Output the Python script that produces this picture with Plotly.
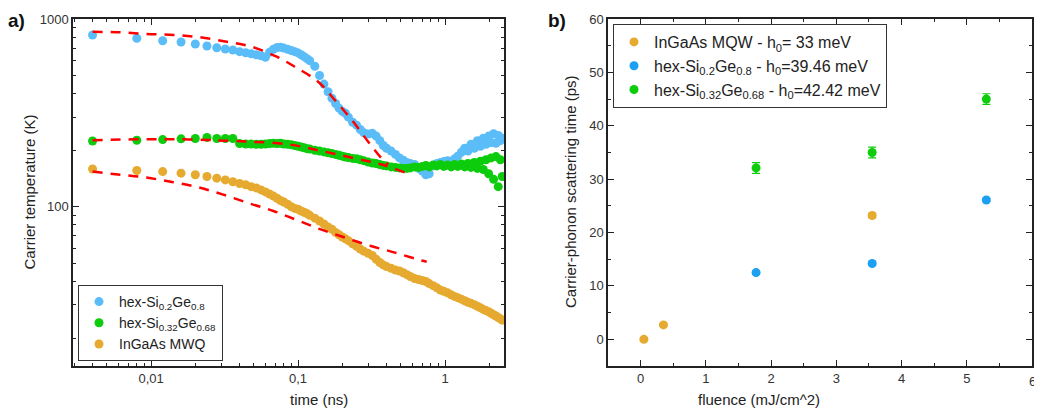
import plotly.graph_objects as go

# ---- panel a: carrier temperature vs time ----
t_ns = [0.004, 0.008, 0.012, 0.016, 0.020, 0.024, 0.028, 0.032, 0.036, 0.040,
        0.044, 0.048, 0.052, 0.056, 0.060,
        0.064, 0.068, 0.072, 0.076, 0.080, 0.085, 0.09, 0.095, 0.10, 0.105,
        0.11, 0.115, 0.12, 0.13, 0.14, 0.15, 0.16, 0.17, 0.18, 0.19,
        0.20, 0.21, 0.22, 0.235, 0.25, 0.265, 0.28, 0.30, 0.32, 0.34,
        0.36, 0.38, 0.40, 0.43, 0.46, 0.49, 0.52, 0.55, 0.58, 0.62,
        0.66, 0.70, 0.74, 0.78, 0.83, 0.88, 0.93, 0.98, 1.04, 1.10,
        1.16, 1.22, 1.29, 1.36, 1.43, 1.50, 1.58, 1.66, 1.74, 1.82,
        1.90, 1.98, 2.06, 2.14, 2.22, 2.30, 2.38, 2.45]

T_sige_02 = [822, 789, 766, 754, 736, 718, 703, 692, 684, 670,
             661, 653, 645, 637, 625,
             665, 690, 705, 708, 700, 690, 680, 670, 660, 645,
             630, 615, 600, 560, 500, 450, 410, 378, 355, 335,
             322, 315, 300, 282, 272, 258, 248, 244, 246, 238,
             225, 212, 205, 198, 190, 182, 177, 172, 170, 168,
             160, 155, 148, 150, 165, 170, 172, 174, 176, 175,
             180, 186, 195, 205, 198, 215, 205, 225, 210, 232,
             215, 238, 220, 245, 218, 240, 225, 232]

T_sige_032 = [224, 226, 228, 230, 231, 234, 231, 231, 231, 217,
              216, 216, 215, 215, 216,
              217, 218, 217, 218, 216, 215, 214, 212, 210, 208,
              206, 204, 203, 200, 198, 196, 194, 192, 190, 188,
              186, 184, 183, 181, 180, 178, 176, 173, 171, 170,
              168, 166, 165, 163, 162, 161, 160, 160, 161, 163,
              162, 164, 166, 163, 167, 165, 168, 164, 167, 163,
              168, 164, 169, 163, 170, 162, 172, 160, 175, 158,
              178, 150, 182, 140, 185, 128, 178, 145]

T_ingaas = [159, 156, 154, 151, 148, 145, 142, 139, 136, 133,
            131, 128, 126, 123, 120,
            117, 114, 111, 108, 106, 103, 100, 98, 97, 95,
            93.5, 92, 90, 87, 84, 81, 78, 76, 73, 71,
            69, 67.5, 66, 63.5, 61.5, 59.5, 58, 56.5, 55, 52.5,
            50.5, 49, 48, 47, 46, 45.5, 44.5, 43.5, 42.5, 41.5,
            41, 40.5, 40, 39, 38, 37, 36, 35.5, 34.8, 34,
            33.3, 32.8, 32.2, 31.6, 31, 30.6, 30.1, 29.5, 29, 28.4,
            28, 27.6, 27.1, 26.6, 26.2, 25.7, 25.3, 24.9]

# fitted curves (red dashed)
fit_t_02 = [0.004, 0.0062, 0.0093, 0.0142, 0.0215, 0.0327, 0.0484, 0.0716,
            0.095, 0.137, 0.178, 0.232, 0.30, 0.37, 0.41]
fit_T_02 = [855, 849, 832, 822, 799, 757, 711, 630, 557, 463, 370, 290, 222, 181, 168]
fit_t_032 = [0.004, 0.0062, 0.0098, 0.0149, 0.0239, 0.031, 0.0484, 0.086,
             0.145, 0.244, 0.37, 0.548]
fit_T_032 = [226, 228, 229, 229, 227, 225, 222, 215, 198, 181, 168, 151]
fit_t_ing = [0.004, 0.0062, 0.0093, 0.0142, 0.0209, 0.031, 0.0471, 0.0679,
             0.098, 0.141, 0.203, 0.309, 0.456, 0.676, 0.75]
fit_T_ing = [154, 148, 143, 135, 127, 116, 104, 95, 85, 76, 69, 62, 57, 52, 51]

# ---- panel b: scattering time vs fluence ----
flu_ingaas = [0.05, 0.35, 3.55]
tau_ingaas = [0.0, 2.7, 23.2]
err_ingaas = [0.3, 0.3, 0.4]
flu_02 = [1.77, 3.55, 5.3]
tau_02 = [12.5, 14.2, 26.1]
err_02 = [0.3, 0.3, 0.3]
flu_032 = [1.77, 3.55, 5.3]
tau_032 = [32.1, 35.0, 45.0]
err_032 = [1.0, 1.0, 1.0]

BLUE_L = "#5BBDF8"
BLUE_R = "#1BA0F2"
GREEN = "#0CCC0C"
ORANGE = "#E6AA30"
FONT = "Liberation Sans, Arial, sans-serif"

OFF = 8  # page body margin shifts the figure by this much
W, H = 1042 - 2 * OFF, 418 - 2 * OFF


def px(x):
    return (x - OFF) / W


def py(y):
    return 1 - (y - OFF) / H


fig = go.Figure()

for T, col, name in [(T_sige_02, BLUE_L, "hex-Si<sub>0.2</sub>Ge<sub>0.8</sub>"),
                     (T_sige_032, GREEN, "hex-Si<sub>0.32</sub>Ge<sub>0.68</sub>"),
                     (T_ingaas, ORANGE, "InGaAs MWQ")]:
    fig.add_trace(go.Scatter(x=t_ns, y=T, mode="markers", name=name,
                             marker=dict(color=col, size=9), legend="legend",
                             xaxis="x", yaxis="y"))

for ft, fT in [(fit_t_02, fit_T_02), (fit_t_032, fit_T_032), (fit_t_ing, fit_T_ing)]:
    fig.add_trace(go.Scatter(x=ft, y=fT, mode="lines", showlegend=False,
                             line=dict(color="#FF0000", width=2.5, dash="10px,8px", shape="spline"),
                             xaxis="x", yaxis="y"))

for fx, fy, fe, col, name in [
        (flu_ingaas, tau_ingaas, err_ingaas, ORANGE, "InGaAs MQW - h<sub>0</sub>= 33 meV"),
        (flu_02, tau_02, err_02, BLUE_R, "hex-Si<sub>0.2</sub>Ge<sub>0.8</sub> - h<sub>0</sub>=39.46 meV"),
        (flu_032, tau_032, err_032, GREEN, "hex-Si<sub>0.32</sub>Ge<sub>0.68</sub> - h<sub>0</sub>=42.42 meV")]:
    fig.add_trace(go.Scatter(x=fx, y=fy, mode="markers", name=name,
                             marker=dict(color=col, size=9),
                             error_y=dict(type="data", array=fe, color=col, thickness=1.2, width=4),
                             legend="legend2", xaxis="x2", yaxis="y2"))

minor_x = [m * 10.0 ** e for e in (-3, -2, -1, 0) for m in range(2, 10)]
minor_y = [m * 10.0 ** e for e in (1, 2) for m in range(2, 10)]

axis_common = dict(showline=True, linecolor="#222", linewidth=1.5, mirror="allticks",
                   ticks="inside", ticklen=6, tickwidth=1.3, tickcolor="#222",
                   showgrid=False, zeroline=False, automargin=False,
                   tickfont=dict(family=FONT, size=13, color="#333"))

fig.update_layout(
    width=W, height=H,
    margin=dict(l=0, r=0, t=0, b=0, pad=0),
    paper_bgcolor="white", plot_bgcolor="white",
    font=dict(family=FONT, color="#222"),
    xaxis=dict(type="log", domain=[px(73), px(504)], range=[-2.531, 0.401],
               tickmode="array", tickvals=[0.01, 0.1, 1], ticktext=["0,01", "0,1", "1"],
               minor=dict(tickmode="array", tickvals=minor_x, ticks="inside", ticklen=3,
                          tickcolor="#222"),
               anchor="y", **axis_common),
    yaxis=dict(type="log", domain=[py(366), py(19)], range=[1.152, 3.0],
               tickmode="array", tickvals=[100, 1000], ticktext=["100", "1000"],
               minor=dict(tickmode="array", tickvals=minor_y, ticks="inside", ticklen=3,
                          tickcolor="#222"),
               anchor="x", **axis_common),
    xaxis2=dict(domain=[px(608), px(1032)], range=[-0.5, 6], dtick=1, tick0=0,
                minor=dict(dtick=0.5, ticks="inside", ticklen=3, tickcolor="#222"),
                anchor="y2", **axis_common),
    yaxis2=dict(domain=[py(366), py(19)], range=[-5, 60], dtick=10, tick0=0,
                minor=dict(dtick=5, ticks="inside", ticklen=3, tickcolor="#222"),
                anchor="x2", **axis_common),
    legend=dict(x=px(78), y=py(285), xanchor="left", yanchor="top",
                bgcolor="white", bordercolor="#333", borderwidth=1,
                font=dict(family=FONT, size=14, color="#222"), itemsizing="trace"),
    legend2=dict(x=px(613), y=py(24), xanchor="left", yanchor="top",
                 bgcolor="white", bordercolor="#333", borderwidth=1,
                 font=dict(family=FONT, size=16, color="#222"), itemsizing="trace"),
    showlegend=True,
)

for txt, x0 in [("<b>a)</b>", 6), ("<b>b)</b>", 546)]:
    fig.add_annotation(text=txt, x=px(x0), y=1.0, xref="paper", yref="paper",
                       xanchor="left", yanchor="top", showarrow=False,
                       font=dict(family=FONT, size=19, color="#111"))

# last tick label of panel b sits on the page edge; plotly drops it, so draw it
fig.add_annotation(text="6", x=6, xref="x2", y=py(381), yref="paper",
                   xanchor="center", yanchor="middle", showarrow=False,
                   font=dict(family=FONT, size=13, color="#333"))

fig.add_annotation(text="Carrier temperature (K)", x=px(18), y=py(192),
                   xref="paper", yref="paper", textangle=-90, showarrow=False,
                   font=dict(family=FONT, size=15, color="#222"))
fig.add_annotation(text="time (ns)", x=px(288), y=0.0,
                   xref="paper", yref="paper", yanchor="bottom", showarrow=False,
                   font=dict(family=FONT, size=15, color="#222"))
fig.add_annotation(text="Carrier-phonon scattering time (ps)", x=px(570), y=py(192),
                   xref="paper", yref="paper", textangle=-90, showarrow=False,
                   font=dict(family=FONT, size=15, color="#222"))
fig.add_annotation(text="fluence (mJ/cm^2)", x=px(822), y=0.0,
                   xref="paper", yref="paper", yanchor="bottom", showarrow=False,
                   font=dict(family=FONT, size=15, color="#222"))

fig.write_html("out.html")
